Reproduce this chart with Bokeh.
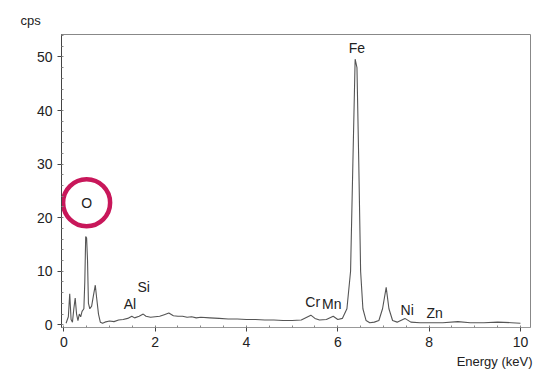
from bokeh.plotting import figure
from bokeh.models import Label, Range1d, FixedTicker, Title
from bokeh.embed import file_html
from bokeh.resources import INLINE

# Spectrum (energy keV, counts per second)
energy = [0.05, 0.10, 0.13, 0.16, 0.19, 0.22, 0.25, 0.28, 0.31, 0.34, 0.37, 0.40, 0.44,
          0.46, 0.48, 0.50, 0.52, 0.54, 0.57, 0.61, 0.65, 0.69, 0.72, 0.76, 0.80, 0.85,
          0.90, 1.00, 1.10, 1.20, 1.30, 1.40, 1.49, 1.55, 1.65, 1.74, 1.80, 1.90, 2.00,
          2.10, 2.20, 2.30, 2.40, 2.50, 2.60, 2.70, 2.80, 2.90, 3.00, 3.20, 3.40, 3.60,
          3.80, 4.00, 4.20, 4.40, 4.60, 4.80, 5.00, 5.20, 5.41, 5.50, 5.60, 5.75, 5.90,
          6.00, 6.10, 6.20, 6.28, 6.33, 6.38, 6.42, 6.46, 6.50, 6.55, 6.62, 6.70, 6.80,
          6.90, 6.98, 7.06, 7.12, 7.20, 7.30, 7.47, 7.60, 7.80, 8.00, 8.30, 8.63, 8.90,
          9.20, 9.50, 9.80, 10.00]
cps = [0.3, 1.5, 5.8, 1.0, 0.5, 3.0, 5.0, 2.0, 0.8, 2.0, 1.5, 2.5, 3.0,
       8.0, 16.5, 16.2, 12.0, 4.0, 3.0, 3.5, 5.5, 7.4, 5.0, 2.0, 0.5, 0.3,
       0.5, 0.7, 0.6, 0.9, 1.0, 1.2, 1.6, 1.3, 1.6, 2.0, 1.6, 1.4, 1.5,
       1.6, 1.9, 2.2, 1.7, 1.6, 1.6, 1.4, 1.5, 1.3, 1.4, 1.3, 1.2, 1.1,
       1.1, 1.0, 1.0, 0.9, 0.9, 0.8, 0.8, 0.9, 1.8, 1.2, 0.9, 1.0, 1.6,
       1.0, 1.2, 3.0, 10.0, 30.0, 49.6, 48.0, 30.0, 10.0, 3.0, 0.8, 0.4, 0.5,
       0.8, 3.0, 7.0, 3.0, 0.8, 0.5, 1.2, 0.5, 0.4, 0.4, 0.4, 0.6, 0.4,
       0.4, 0.5, 0.4, 0.3]

# Element labels: name, energy position, label height (cps)
elements = ["O", "Al", "Si", "Cr", "Mn", "Fe", "Ni", "Zn"]
elem_energy = [0.50, 1.45, 1.75, 5.45, 5.87, 6.42, 7.52, 8.12]
elem_height = [22.8, 3.9, 7.1, 4.3, 3.8, 51.6, 2.8, 2.3]

x_ticks = [0, 2, 4, 6, 8, 10]
y_ticks = [0, 10, 20, 30, 40, 50]

FONT = "Liberation Sans"

p = figure(width=533, height=370, output_backend="svg", toolbar_location=None,
           x_range=Range1d(-0.05, 10.22), y_range=Range1d(-0.5, 54.2),
           min_border_left=61, min_border_right=3, min_border_top=34, min_border_bottom=40)
p.background_fill_color = "white"
p.border_fill_color = "white"
p.grid.visible = False
p.outline_line_color = "#888888"
p.outline_line_width = 1

p.line(energy, cps, line_color="#555555", line_width=1.1)

# highlight circle around O label
p.scatter([elem_energy[0]], [elem_height[0]], marker="circle", size=47,
          fill_color=None, line_color="#c8175a", line_width=4.5)

for name, ex, ey in zip(elements, elem_energy, elem_height):
    p.add_layout(Label(x=ex, y=ey, text=name, text_align="center", text_baseline="middle",
                       text_font=FONT, text_font_size="14px", text_color="#222222"))

p.xaxis.ticker = FixedTicker(ticks=x_ticks, minor_ticks=[i * 0.5 for i in range(21)])
p.yaxis.ticker = FixedTicker(ticks=y_ticks, minor_ticks=list(range(0, 55, 2)))
for ax in (p.xaxis[0], p.yaxis[0]):
    ax.major_label_text_font = FONT
    ax.major_label_text_font_size = "14px"
    ax.major_label_text_color = "#222222"
    ax.axis_line_color = "#444444"
    ax.major_tick_line_color = "#444444"
    ax.minor_tick_line_color = "#888888"
    ax.major_tick_out = 4
    ax.major_tick_in = 0
    ax.minor_tick_out = 0
    ax.minor_tick_in = 2
p.xaxis.axis_line_color = "#999999"
p.xaxis.major_label_standoff = 5
p.yaxis.major_label_standoff = 5

p.add_layout(Title(text="cps", align="left", offset=-41, standoff=13,
                   text_font=FONT, text_font_size="13px", text_font_style="normal",
                   text_color="#222222"), "above")
p.add_layout(Title(text="Energy (keV)", align="right", offset=-2, standoff=4,
                   text_font=FONT, text_font_size="13px", text_font_style="normal",
                   text_color="#222222"), "below")

open("out.html", "w").write(file_html(p, INLINE))
